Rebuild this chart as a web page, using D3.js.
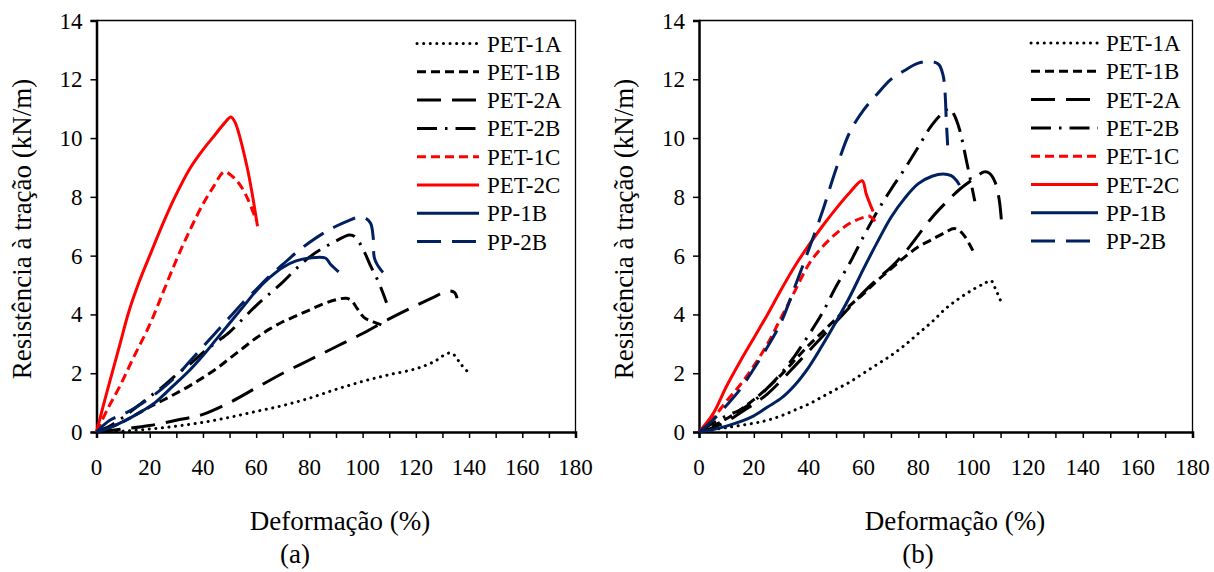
<!DOCTYPE html>
<html>
<head>
<meta charset="utf-8">
<script src="https://cdn.jsdelivr.net/npm/d3@7"></script>
<style>
  body { margin: 0; background: #fff; }
</style>
</head>
<body>
<div id="chart"></div>
<script>
// nomes das séries (ordem da legenda)
var seriesNames = ["PET-1A", "PET-1B", "PET-2A", "PET-2B", "PET-1C", "PET-2C", "PP-1B", "PP-2B"];
var xTicks = d3.range(0, 181, 20);
var xMinorTicks = d3.range(0, 181, 10);
var yTicks = d3.range(0, 15, 2);

// (a) deformação (%), resistência (kN/m)
var a_PET1A = [[0,0],[10,0.03],[20,0.1],[30,0.2],[40,0.33],[50,0.5],[60,0.7],[70,0.9],[80,1.15],[90,1.45],[100,1.72],[110,1.95],[120,2.15],[127,2.4],[132,2.68],[134,2.65],[137,2.3],[140.5,1.95]];
var a_PET1B = [[0,0],[5,0.15],[10,0.35],[15,0.6],[20,0.85],[25,1.08],[30,1.32],[35,1.57],[40,1.85],[45,2.15],[50,2.5],[55,2.85],[60,3.2],[65,3.5],[70,3.75],[75,3.95],[80,4.15],[85,4.35],[90,4.5],[94,4.55],[96,4.45],[98,4.2],[100.5,3.9],[104,3.75],[108.5,3.6]];
var a_PET2A = [[0,0],[10,0.1],[20,0.22],[30,0.4],[40,0.6],[50,1.0],[60,1.5],[70,2.0],[80,2.45],[90,2.9],[100,3.35],[110,3.85],[120,4.3],[127,4.6],[132,4.8],[134.5,4.75],[135.5,4.55]];
var a_PET2B = [[0,0],[5,0.2],[10,0.5],[15,0.85],[20,1.2],[25,1.55],[30,1.95],[35,2.3],[40,2.7],[45,3.05],[50,3.4],[55,3.85],[60,4.3],[65,4.7],[70,5.1],[75,5.55],[80,5.95],[85,6.25],[90,6.5],[95,6.7],[97,6.65],[100,6.25],[103,5.65],[106,5.1],[109,4.4]];
var a_PET1C = [[0,0],[4,0.75],[9,1.6],[14,2.55],[20,3.65],[25,4.75],[30,5.85],[35,6.85],[40,7.75],[44,8.35],[48,8.85],[51,8.7],[54,8.4],[57,7.9],[60,7.2]];
var a_PET2C = [[0,0],[3,1.05],[6,2.05],[9,3.05],[12,4.05],[16,5.1],[20,6.0],[25,7.1],[29.5,8.0],[35,8.95],[40,9.6],[44,10.05],[48,10.5],[50.5,10.72],[52,10.55],[56.5,9.05],[60.5,7.0]];
var a_PP1B = [[0,0],[5,0.15],[10,0.35],[16,0.65],[22,1.0],[28,1.5],[35,2.1],[40,2.6],[45,3.15],[50,3.7],[55,4.25],[60,4.8],[65,5.25],[70,5.6],[75,5.82],[80,5.92],[86,5.92],[88,5.7],[91,5.45]];
var a_PP2B = [[0,0],[5,0.4],[10,0.6],[15,0.85],[20,1.15],[25,1.5],[30,1.9],[35,2.4],[40,2.9],[45,3.4],[50,3.9],[55,4.4],[60,4.85],[65,5.3],[70,5.7],[75,6.1],[80,6.45],[85,6.75],[90,7.0],[95,7.2],[98,7.3],[101,7.28],[103,7.1],[104,6.6],[104.5,5.9],[107,5.5],[110.5,5.2]];

// (b)
var b_PET1A = [[0,0],[10,0.15],[20,0.3],[25,0.4],[30,0.55],[35,0.75],[40,0.95],[45,1.2],[50,1.45],[55,1.7],[60,2.0],[65,2.3],[70,2.6],[75,2.95],[80,3.35],[85,3.75],[90,4.2],[95,4.55],[100,4.85],[104,5.05],[106.5,5.15],[108,4.9],[110.3,4.4]];
var b_PET1B = [[0,0],[5,0.2],[10,0.45],[15,0.75],[20,1.1],[25,1.5],[30,1.95],[35,2.45],[40,2.95],[45,3.4],[50,3.85],[55,4.3],[60,4.7],[65,5.15],[70,5.55],[75,5.95],[80,6.3],[85,6.55],[90,6.8],[93,6.92],[95,6.85],[97,6.65],[100,6.15]];
var b_PET2A = [[0,0],[5,0.15],[10,0.35],[15,0.65],[20,0.95],[25,1.3],[30,1.75],[35,2.25],[40,2.75],[45,3.25],[50,3.75],[55,4.25],[60,4.75],[65,5.2],[70,5.6],[75,6.1],[80,6.7],[85,7.3],[90,7.8],[95,8.25],[100,8.6],[104,8.85],[106,8.8],[108,8.5],[109.5,7.9],[110.3,7.2]];
var b_PET2B = [[0,0],[5,0.3],[10,0.55],[15,0.75],[20,1.05],[25,1.5],[30,2.0],[35,2.6],[40,3.3],[45,4.05],[50,4.95],[55,5.75],[60,6.65],[65,7.5],[70,8.25],[75,8.95],[80,9.7],[85,10.45],[90,10.95],[91.5,11.0],[93,10.8],[95,10.3],[97.5,9.25],[100.6,7.85]];
var b_PET1C = [[0,0],[5,0.45],[10,1.05],[15,1.6],[20,2.25],[25,3.0],[30,3.9],[35,4.8],[40,5.7],[45,6.3],[50,6.75],[55,7.1],[60,7.3],[62,7.35],[63.5,7.25],[65,7.05]];
var b_PET2C = [[0,0],[5,0.6],[10,1.55],[15,2.4],[20,3.2],[25,4.0],[30,4.85],[35,5.65],[40,6.35],[45,7.0],[50,7.6],[55,8.15],[59.5,8.55],[61,8.1],[63.5,7.5]];
var b_PP1B = [[0,0],[5,0.08],[10,0.2],[15,0.35],[20,0.55],[25,0.85],[30,1.15],[35,1.6],[40,2.2],[45,2.95],[50,3.75],[55,4.6],[60,5.55],[65,6.45],[70,7.3],[75,7.95],[80,8.45],[85,8.7],[89,8.78],[92,8.72],[94,8.55],[95,8.4]];
var b_PP2B = [[0,0],[5,0.4],[10,0.9],[15,1.45],[20,2.15],[25,2.9],[30,3.75],[35,4.95],[40,6.2],[45,7.5],[50,8.95],[55,10.2],[60,10.95],[65,11.5],[70,12.0],[75,12.3],[80,12.55],[85,12.6],[87.5,12.5],[89,12.15],[89.7,11.6],[90.2,10.6],[90.7,9.75]];

var panelAData = [a_PET1A, a_PET1B, a_PET2A, a_PET2B, a_PET1C, a_PET2C, a_PP1B, a_PP2B];
var panelBData = [b_PET1A, b_PET1B, b_PET2A, b_PET2B, b_PET1C, b_PET2C, b_PP1B, b_PP2B];

// estilos das linhas
var navy = "#002060";
var styles = {
  "PET-1A": { color: "#000", dash: "0.1 6.5", cap: "round" },
  "PET-1B": { color: "#000", dash: "9 5", cap: "butt" },
  "PET-2A": { color: "#000", dash: "24 11", cap: "butt" },
  "PET-2B": { color: "#000", dash: "20 8 2.5 8", cap: "butt" },
  "PET-1C": { color: "#ff0000", dash: "9 5", cap: "butt" },
  "PET-2C": { color: "#ff0000", dash: null, cap: "butt" },
  "PP-1B": { color: navy, dash: null, cap: "butt" },
  "PP-2B": { color: navy, dash: "24 11", cap: "butt" }
};

var serif = "'Liberation Serif', 'Times New Roman', 'DejaVu Serif', serif";
var width = 1214;
var height = 572;

var svg = d3.select("#chart")
  .append("svg")
  .attr("width", width)
  .attr("height", height)
  .attr("font-family", serif);

var panels = [
  { data: panelAData, tag: "(a)", left: 96.5, right: 575.5, top: 20.5, bottom: 432,
    legendX: 417, legendY: 43.5, legendLen: 62, titleX: 340, tagX: 295, yTitleX: 22 },
  { data: panelBData, tag: "(b)", left: 699, right: 1192.5, top: 20.5, bottom: 432,
    legendX: 1031, legendY: 43, legendLen: 67, titleX: 955, tagX: 918, yTitleX: 624 }
];

panels.forEach(function (p) {
  var x = d3.scaleLinear().domain([0, 180]).range([p.left, p.right]);
  var y = d3.scaleLinear().domain([0, 14]).range([p.bottom, p.top]);

  var g = svg.append("g");

  // moldura (topo e direita)
  g.append("path")
    .attr("d", "M" + p.left + "," + p.top + "H" + p.right + "V" + p.bottom)
    .attr("fill", "none")
    .attr("stroke", "#000")
    .attr("stroke-width", 1.3);

  // eixo x
  var xAxis = d3.axisBottom(x).tickValues(xMinorTicks).tickSize(6).tickFormat("");
  g.append("g")
    .attr("transform", "translate(0," + p.bottom + ")")
    .call(xAxis)
    .call(function (s) {
      s.select(".domain").attr("stroke-width", 2.5);
      s.selectAll(".tick line").attr("stroke-width", 1.5);
    });
  g.selectAll(".xlab")
    .data(xTicks)
    .enter()
    .append("text")
    .attr("x", d => x(d))
    .attr("y", p.bottom + 43)
    .attr("text-anchor", "middle")
    .attr("font-family", serif)
    .attr("font-size", 23)
    .text(d => d);

  // eixo y
  var yAxis = d3.axisLeft(y).tickValues(yTicks).tickSize(6).tickFormat("");
  g.append("g")
    .attr("transform", "translate(" + p.left + ",0)")
    .call(yAxis)
    .call(function (s) {
      s.select(".domain").attr("stroke-width", 2.5);
      s.selectAll(".tick line").attr("stroke-width", 1.5);
    });
  g.selectAll(".ylab")
    .data(yTicks)
    .enter()
    .append("text")
    .attr("x", p.left - 14)
    .attr("y", d => y(d) + 8)
    .attr("text-anchor", "end")
    .attr("font-family", serif)
    .attr("font-size", 23)
    .text(d => d);

  // títulos
  g.append("text")
    .attr("x", p.titleX)
    .attr("y", 530)
    .attr("text-anchor", "middle")
    .attr("font-family", serif)
    .attr("font-size", 27)
    .text("Deformação (%)");
  g.append("text")
    .attr("x", p.tagX)
    .attr("y", 563)
    .attr("text-anchor", "middle")
    .attr("font-family", serif)
    .attr("font-size", 27)
    .text(p.tag);
  g.append("text")
    .attr("transform", "translate(" + (p.yTitleX + 9) + ",229) rotate(-90)")
    .attr("text-anchor", "middle")
    .attr("font-family", serif)
    .attr("font-size", 27)
    .text("Resistência à tração (kN/m)");

  // curvas
  var line = d3.line()
    .x(d => x(d[0]))
    .y(d => y(d[1]))
    .curve(d3.curveCatmullRom.alpha(0.5));

  g.selectAll(".curve")
    .data(p.data)
    .enter()
    .append("path")
    .attr("d", line)
    .attr("fill", "none")
    .attr("stroke", (d, i) => styles[seriesNames[i]].color)
    .attr("stroke-width", 3)
    .attr("stroke-dasharray", (d, i) => styles[seriesNames[i]].dash)
    .attr("stroke-linecap", (d, i) => styles[seriesNames[i]].cap);

  // legenda
  var lg = g.selectAll(".leg")
    .data(seriesNames)
    .enter()
    .append("g")
    .attr("transform", (d, i) => "translate(" + p.legendX + "," + (p.legendY + i * 28.3) + ")");
  lg.append("line")
    .attr("x1", 0)
    .attr("x2", p.legendLen)
    .attr("stroke", d => styles[d].color)
    .attr("stroke-width", 3)
    .attr("stroke-dasharray", d => styles[d].dash)
    .attr("stroke-linecap", d => styles[d].cap);
  lg.append("text")
    .attr("x", p.legendLen + 8)
    .attr("y", 8)
    .attr("font-family", serif)
    .attr("font-size", 23)
    .text(d => d);
});
</script>
</body>
</html>
